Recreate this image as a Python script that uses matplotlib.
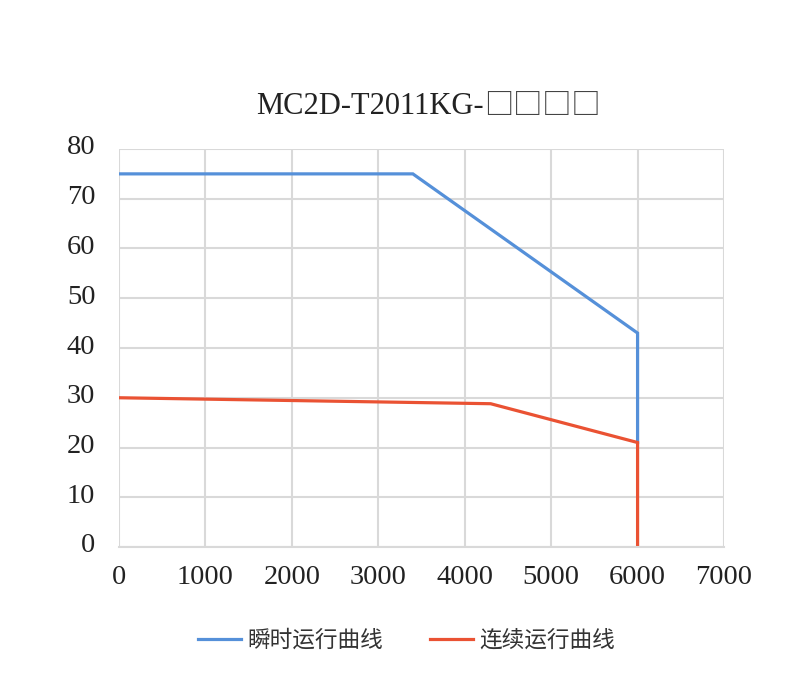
import matplotlib
matplotlib.use('Agg')
import matplotlib.pyplot as plt
import matplotlib.transforms as mtransforms

# 数据
x_peak = [0, 3400, 6000, 6000]
y_peak = [75, 75, 43, 21]
x_cont = [0, 4300, 6000, 6000]
y_cont = [30, 28.8, 21, 0]
labels = ['瞬时运行曲线', '连续运行曲线']
title_main = 'MC2D-T2011KG-'
title_boxes = '□□□□'

serif = ['Liberation Serif', 'DejaVu Serif']
cjk = ['Noto Sans CJK SC', 'DejaVu Sans']

fig = plt.figure(figsize=(7.98, 6.87), dpi=100)
ax = fig.add_axes([119 / 798, 1 - 547 / 687, (724 - 119) / 798, (547 - 149) / 687])

ax.plot(x_peak, y_peak, color='#5590d9', lw=2.3, label=labels[0], solid_joinstyle='miter')
ax.plot(x_cont, y_cont, color='#ea5233', lw=2.3, label=labels[1], solid_joinstyle='miter')

ax.set_xlim(0, 7000)
ax.set_ylim(0, 80)
ax.set_xticks(range(0, 7001, 1000))
ax.set_yticks(range(0, 81, 10))
ax.grid(True, color='#d9d9d9', lw=1.5)
ax.set_axisbelow(True)
for s in ['top', 'right', 'left']:
    ax.spines[s].set_visible(False)
ax.spines['bottom'].set_color('#d9d9d9')
ax.spines['bottom'].set_linewidth(1.5)
ax.tick_params(length=0, labelsize=20.5)
ax.tick_params(axis='x', pad=13)
ax.tick_params(axis='y', pad=17)
off = mtransforms.ScaledTranslation(0, 4 / 100, fig.dpi_scale_trans)
for t in ax.get_yticklabels():
    t.set_transform(t.get_transform() + off)
for t in ax.get_xticklabels() + ax.get_yticklabels():
    t.set_family(serif)
    t.set_color('#222222')

# 标题：拉丁部分用衬线字体，方框用全角字体
fig.text(484 / 798, 1 - 114 / 687, title_main, family=serif, fontsize=22,
         ha='right', va='baseline', color='#222222')
fig.text(484 / 798, 1 - 114 / 687, title_boxes, family=cjk, fontsize=21,
         ha='left', va='baseline', color='#444444')

leg = fig.legend(loc='center', bbox_to_anchor=(406.5 / 798, 1 - 640 / 687), ncol=2, frameon=False,
                 prop={'family': cjk, 'size': 16.3}, handlelength=1.9, handletextpad=0.25,
                 columnspacing=2.1)
for t in leg.get_texts():
    t.set_color('#333333')

fig.savefig('out.png', dpi=100)
